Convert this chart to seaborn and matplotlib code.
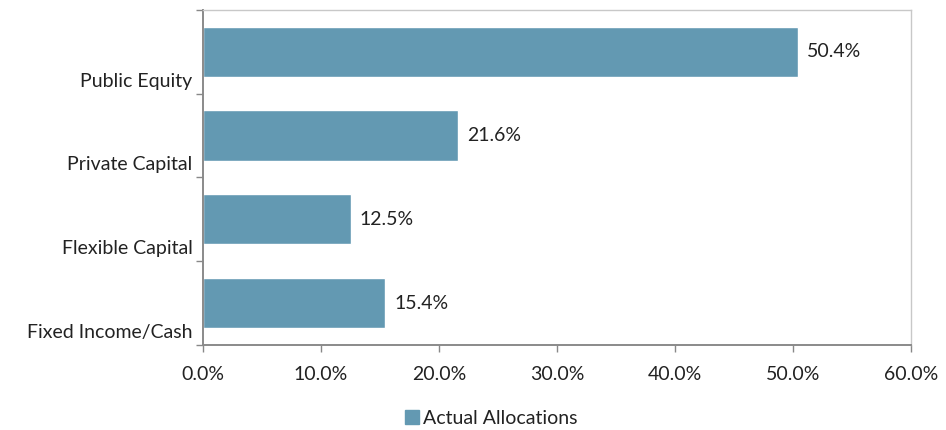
import matplotlib
matplotlib.use("Agg")
import matplotlib.pyplot as plt
import matplotlib.patches as mpatches
import seaborn as sns
import pandas as pd
from matplotlib.ticker import FixedLocator, PercentFormatter

categories = ["Public Equity", "Private Capital", "Flexible Capital", "Fixed Income/Cash"]
allocations = [50.4, 21.6, 12.5, 15.4]
series_name = "Actual Allocations"
x_ticks = [0, 10, 20, 30, 40, 50, 60]

bar_color = "#6399b2"
text_color = "#222222"
fs = 14

sns.set_theme(style="white")
plt.rcParams["font.family"] = ["Lato", "DejaVu Sans"]

df = pd.DataFrame({"category": categories, "value": allocations})

fig = plt.figure(figsize=(9.46, 4.30), dpi=100)
ax = fig.add_axes([203 / 946, 1 - 345 / 430, (911 - 203) / 946, (345 - 10) / 430])

sns.barplot(data=df, x="value", y="category", orient="h", color=bar_color,
            saturation=1, width=0.6, ax=ax, order=categories)

ax.set_xlim(0, 60)
ax.set_ylim(len(categories) - 0.5, -0.5)
ax.set_xlabel("")
ax.set_ylabel("")

# x axis: percent ticks with outward marks
ax.xaxis.set_major_locator(FixedLocator(x_ticks))
ax.xaxis.set_major_formatter(PercentFormatter(decimals=1))
ax.tick_params(axis="x", bottom=True, direction="out", length=5, width=1,
               color="#888888", labelsize=fs, labelcolor=text_color, pad=10)

# y axis: tick marks on band boundaries, labels near the bottom of each band
bounds = [i - 0.5 for i in range(len(categories) + 1)]
ax.set_yticks(bounds)
ax.set_yticklabels([""] * len(bounds))
ax.tick_params(axis="y", left=True, direction="out", length=5, width=1,
               color="#888888")
for i, name in enumerate(categories):
    ax.text(-0.015, i + 0.35, name, transform=ax.get_yaxis_transform(),
            ha="right", va="center", fontsize=fs, color=text_color)

for side in ["left", "bottom"]:
    ax.spines[side].set_color("#8a8a8a")
    ax.spines[side].set_linewidth(1.4)
for side in ["top", "right"]:
    ax.spines[side].set_color("#c8c8c8")
    ax.spines[side].set_linewidth(1.0)

# value labels at the end of each bar
for i, v in enumerate(allocations):
    ax.text(v + 0.8, i, f"{v:.1f}%", ha="left", va="center",
            fontsize=fs, color=text_color)

handle = mpatches.Patch(color=bar_color, label=series_name)
fig.legend(handles=[handle], loc="center", bbox_to_anchor=(491 / 946, 1 - 418 / 430),
           frameon=False, fontsize=fs, handlelength=0.7, handleheight=0.7,
           handletextpad=0.2, labelcolor=text_color, borderpad=0)

fig.savefig("out.png", dpi=100)
